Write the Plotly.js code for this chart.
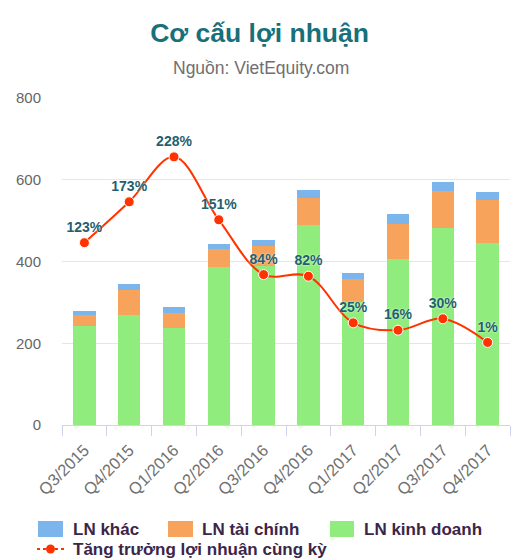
<!DOCTYPE html>
<html>
<head>
<meta charset="utf-8">
<script src="https://cdn.plot.ly/plotly-3.0.1.min.js"></script>
<style>html,body{margin:0;padding:0;background:#fff;}#chart{width:511px;height:559px;}</style>
</head>
<body>
<div id="chart"></div>
<script>
const categories = ["Q3/2015","Q4/2015","Q1/2016","Q2/2016","Q3/2016","Q4/2016","Q1/2017","Q2/2017","Q3/2017","Q4/2017"];
const lnKinhDoanh = [242, 269, 237, 386, 388, 489, 300, 406, 482, 445];
const lnTaiChinh  = [27, 61, 37, 44, 50, 66, 57, 85, 90, 105];
const lnKhac      = [10, 15, 15, 13, 14, 20, 15, 25, 22, 20];
const tangTruong  = [123, 173, 228, 151, 84, 82, 25, 16, 30, 1];
const growthLabels = tangTruong.map(v => v + "%");

const seriesNames = ["LN khác", "LN tài chính", "LN kinh doanh", "Tăng trưởng lợi nhuận cùng kỳ"];
const colors = {khac: "#7cb5ec", taichinh: "#f7a35c", kinhdoanh: "#90ed7d", line: "#ff3300"};
const FONT = "Liberation Sans, Arial, sans-serif";

const traces = [
  {type: "bar", x: categories, y: lnKinhDoanh, name: seriesNames[2], marker: {color: colors.kinhdoanh}, hoverinfo: "skip"},
  {type: "bar", x: categories, y: lnTaiChinh, name: seriesNames[1], marker: {color: colors.taichinh}, hoverinfo: "skip"},
  {type: "bar", x: categories, y: lnKhac, name: seriesNames[0], marker: {color: colors.khac}, hoverinfo: "skip"},
  {type: "scatter", mode: "lines+markers+text", x: categories, y: tangTruong, yaxis: "y2",
   name: seriesNames[3], text: growthLabels, textposition: "top center",
   textfont: {family: FONT, size: 14, color: "#1f5f6e", weight: "bold", shadow: "0px 0px 2px #ffffff"},
   line: {color: colors.line, width: 2, shape: "spline", smoothing: 1},
   marker: {color: colors.line, size: 10, line: {color: "#ffffff", width: 1}},
   cliponaxis: false, hoverinfo: "skip"}
];

const L = 62, R = 510, T = 98, B = 425;
const px = v => (v - L) / (R - L);
const py = v => (B - v) / (B - T);

const legendBoxes = [
  {x0: 38, x1: 63, color: colors.khac, label: seriesNames[0], tx: 71},
  {x0: 168, x1: 193, color: colors.taichinh, label: seriesNames[1], tx: 200},
  {x0: 330, x1: 354, color: colors.kinhdoanh, label: seriesNames[2], tx: 362}
];
const shapes = legendBoxes.map(b => ({type: "rect", xref: "paper", yref: "paper",
  x0: px(b.x0), x1: px(b.x1), y0: py(537), y1: py(521), fillcolor: b.color, line: {width: 0}}));
shapes.push({type: "line", xref: "paper", yref: "paper", x0: px(37), x1: px(64), y0: py(549), y1: py(549),
  line: {color: colors.line, width: 2, dash: "3px,3px"}});
shapes.push({type: "circle", xref: "paper", yref: "paper", x0: px(46), x1: px(55), y0: py(553.5), y1: py(544.5),
  fillcolor: colors.line, line: {color: colors.line, width: 0}});

const legendFont = {family: FONT, size: 17, color: "#3b2548", weight: "bold"};
const annotations = legendBoxes.map(b => ({xref: "paper", yref: "paper", x: px(b.tx), y: py(529),
  xanchor: "left", yanchor: "middle", text: b.label, showarrow: false, font: legendFont}));
annotations.push({xref: "paper", yref: "paper", x: px(71), y: py(549), xanchor: "left", yanchor: "middle",
  text: seriesNames[3], showarrow: false, font: legendFont});
annotations.push({xref: "paper", yref: "paper", x: px(261), y: py(68), xanchor: "center", yanchor: "middle",
  text: "Nguồn: VietEquity.com", showarrow: false, font: {family: FONT, size: 17.5, color: "#6f6f6f"}});

const layout = {
  width: 511, height: 559,
  margin: {l: L, r: 511 - R, t: T, b: 559 - B},
  paper_bgcolor: "#ffffff", plot_bgcolor: "#ffffff",
  title: {text: "Cơ cấu lợi nhuận", x: 0.508, xanchor: "center", xref: "container",
          y: 1 - 33 / 559, yanchor: "middle", yref: "container",
          font: {family: FONT, size: 26.5, color: "#17707a", weight: "bold"}},
  barmode: "stack", bargap: 0.5,
  showlegend: false,
  xaxis: {type: "category", tickangle: -45, tickson: "boundaries", ticks: "outside", ticklen: 10,
          tickcolor: "#ccd6eb", showline: true, linecolor: "#ccd6eb", linewidth: 1, showgrid: false,
          ticklabelstandoff: 8,
          tickfont: {family: FONT, size: 16.5, color: "#707070"}, range: [-0.5, 9.5], fixedrange: true},
  yaxis: {range: [0, 800], dtick: 200, showgrid: true, gridcolor: "#e6e6e6", gridwidth: 1,
          zeroline: false, showline: false, ticks: "", ticklabelstandoff: 20,
          tickfont: {family: FONT, size: 15, color: "#666666"}, fixedrange: true},
  yaxis2: {range: [-100, 300], overlaying: "y", side: "right", visible: false, showgrid: false,
           zeroline: false, fixedrange: true},
  shapes: shapes, annotations: annotations
};

Plotly.newPlot("chart", traces, layout, {displayModeBar: false, staticPlot: true});
</script>
</body>
</html>
